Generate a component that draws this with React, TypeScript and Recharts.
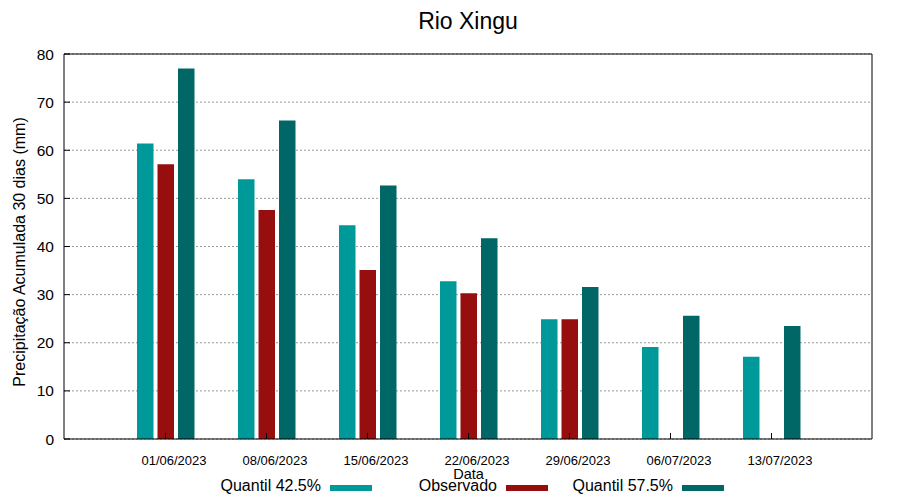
import React from "react";
import { BarChart, Bar, XAxis, YAxis, CartesianGrid } from "recharts";

const dates = ["01/06/2023", "08/06/2023", "15/06/2023", "22/06/2023", "29/06/2023", "06/07/2023", "13/07/2023"];
const quantil425 = [61.4, 54.0, 44.4, 32.8, 24.9, 19.1, 17.1];
const observado: (number | null)[] = [57.1, 47.6, 35.1, 30.3, 24.9, null, null];
const quantil575 = [77.0, 66.2, 52.7, 41.7, 31.6, 25.6, 23.5];
const yTicks = [0, 10, 20, 30, 40, 50, 60, 70, 80];

const series = [
  { key: "q425", name: "Quantil 42.5%", color: "#009999" },
  { key: "obs", name: "Observado", color: "#960e0e" },
  { key: "q575", name: "Quantil 57.5%", color: "#006666" },
];

const data = dates.map((d, i) => ({
  date: d,
  q425: quantil425[i],
  obs: observado[i],
  q575: quantil575[i],
}));

const FONT = "'Liberation Sans', Arial, Helvetica, sans-serif";

const XTick = (props: any) => {
  const { x, y, payload } = props;
  return (
    <text x={x + 8.5} y={y} textAnchor="middle" fontSize={13} fill="#000" fontFamily={FONT}>
      {payload.value}
    </text>
  );
};

const legendSwatchX = [330, 506, 682];

export default function App() {
  return (
    <div style={{ position: "absolute", left: 0, top: 0, width: 900, height: 500, fontFamily: FONT, background: "#fff" }}>
      <BarChart
        width={900}
        height={500}
        data={data}
        margin={{ top: 53, right: 27, bottom: 0, left: 0 }}
        barSize={16.5}
        barGap={4}
      >
        <CartesianGrid
          xAxisId="bottom"
          yAxisId="left"
          vertical={false}
          stroke="#999999"
          strokeDasharray="2 2"
        />
        <XAxis
          xAxisId="bottom"
          dataKey="date"
          orientation="bottom"
          height={61}
          padding={{ left: 51, right: 50 }}
          tickSize={-6}
          tickMargin={32}
          tick={<XTick />}
          interval={0}
          axisLine={{ stroke: "#000" }}
          tickLine={{ stroke: "#000" }}
        />
        <XAxis
          xAxisId="top"
          dataKey="date"
          orientation="top"
          height={1}
          padding={{ left: 51, right: 50 }}
          tickSize={-6}
          tick={false}
          interval={0}
          axisLine={{ stroke: "#000" }}
          tickLine={{ stroke: "#000" }}
        />
        <YAxis
          yAxisId="left"
          type="number"
          domain={[0, 80]}
          ticks={yTicks}
          width={64}
          tickSize={-6}
          tickMargin={16}
          allowDataOverflow
          tick={{ fontSize: 15.5, fill: "#000", fontFamily: FONT }}
          axisLine={{ stroke: "#000" }}
          tickLine={{ stroke: "#000" }}
        />
        <YAxis
          yAxisId="right"
          orientation="right"
          type="number"
          domain={[0, 80]}
          ticks={yTicks}
          width={1}
          tickSize={-6}
          allowDataOverflow
          tick={false}
          axisLine={{ stroke: "#000" }}
          tickLine={{ stroke: "#000" }}
        />
        {series.map((s) => (
          <Bar
            key={s.key}
            dataKey={s.key}
            name={s.name}
            fill={s.color}
            xAxisId="bottom"
            yAxisId="left"
            isAnimationActive={false}
          />
        ))}
      </BarChart>
      <svg
        width={900}
        height={500}
        style={{ position: "absolute", left: 0, top: 0, pointerEvents: "none" }}
        fontFamily={FONT}
      >
        <text x={468} y={29} textAnchor="middle" fontSize={23} fill="#000">
          Rio Xingu
        </text>
        <text
          x={25}
          y={252}
          transform="rotate(-90 25 252)"
          textAnchor="middle"
          fontSize={16}
          fill="#000"
        >
          Precipitação Acumulada 30 dias (mm)
        </text>
        <text x={468.5} y={479} textAnchor="middle" fontSize={14.5} fill="#000">
          Data
        </text>
        {series.map((s, i) => (
          <g key={s.key}>
            <text x={legendSwatchX[i] - 9} y={491} textAnchor="end" fontSize={16} fill="#000">
              {s.name}
            </text>
            <rect x={legendSwatchX[i]} y={485} width={42} height={6} fill={s.color} />
          </g>
        ))}
      </svg>
    </div>
  );
}
